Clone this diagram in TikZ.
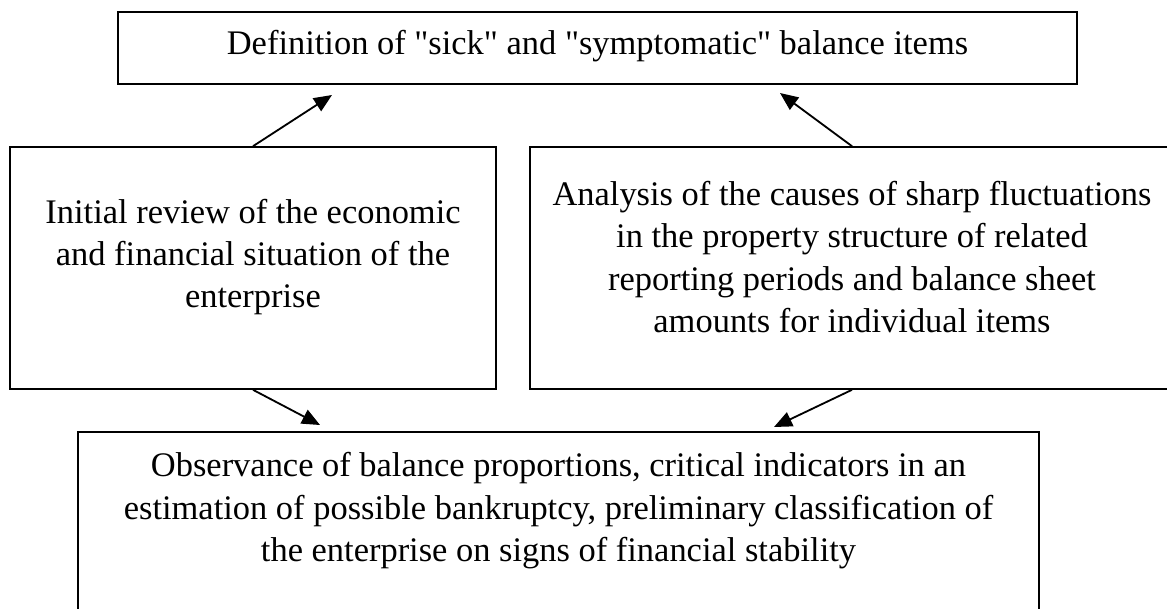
\documentclass[tikz,border=0pt]{standalone}
\usepackage{fontspec}
\setmainfont{Liberation Serif}[Ligatures=TeXOff]
\usetikzlibrary{arrows.meta}

\begin{document}
\begin{tikzpicture}[
  x=0.025cm, y=-0.025cm,
  box/.style={draw, line width=1.1pt, inner sep=0pt},
  txt/.style={align=center, inner sep=0pt, font=\fontsize{24.5pt}{30.2pt}\selectfont},
  link/.style={-{Triangle[length=0.45cm, width=0.38cm]}, line width=1.3pt}
]
  \clip (0,0) rectangle (1167,608);

  % boxes
  \node[box, minimum width=23.975cm, minimum height=1.8cm] (define) at (597.5,48) {};
  \node[box, minimum width=12.15cm, minimum height=6.05cm] (review) at (253,268) {};
  \node[box, minimum width=16.1cm, minimum height=6.05cm] (analysis) at (852,268) {};
  \node[box, minimum width=24.025cm, minimum height=4.825cm] (observe) at (558.5,528.5) {};

  % texts
  \node[txt] (definetext) at (597.5,46) {Definition of "sick" and "symptomatic" balance items};
  \node[txt] (reviewtext) at (253,257) {Initial review of the economic\\and financial situation of the\\enterprise};
  \node[txt] (analysistext) at (852,257) {Analysis of the causes of sharp fluctuations\\in the property structure of related\\reporting periods and balance sheet\\amounts for individual items};
  \node[txt] (observetext) at (558.5,511) {Observance of balance proportions, critical indicators in an\\estimation of possible bankruptcy, preliminary classification of\\the enterprise on signs of financial stability};

  % arrow ends
  \coordinate (defineL) at (332,95);
  \coordinate (defineR) at (780,93);
  \coordinate (observeL) at (320,425);
  \coordinate (observeR) at (774,427);

  \draw[link] (review.north) -- (defineL);
  \draw[link] (analysis.north) -- (defineR);
  \draw[link] (review.south) -- (observeL);
  \draw[link] (analysis.south) -- (observeR);
\end{tikzpicture}
\end{document}
